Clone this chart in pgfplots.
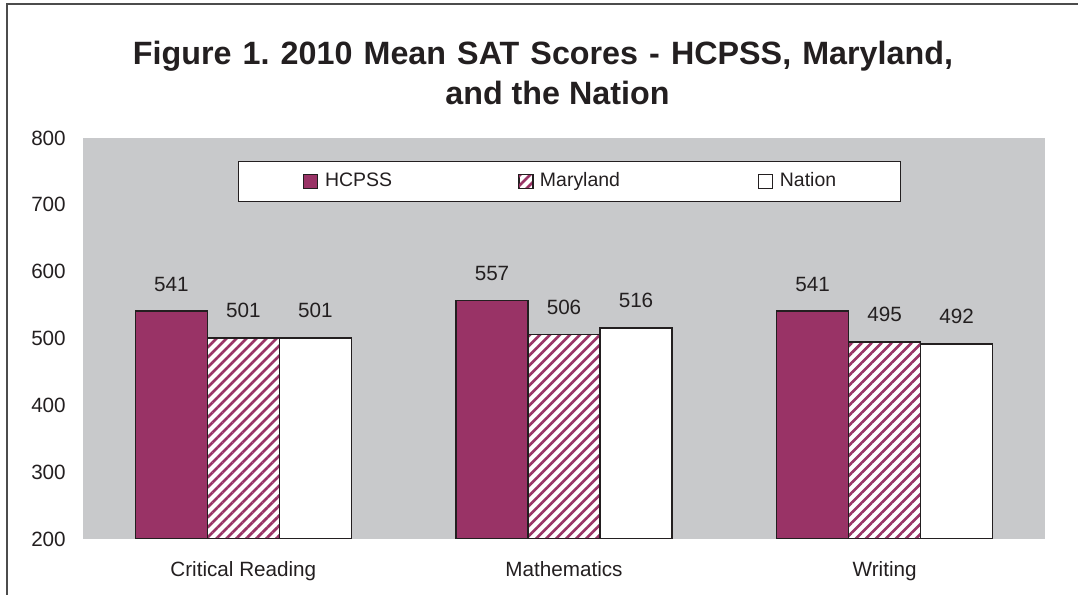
\documentclass[border=0pt]{standalone}
\usepackage{pgfplots}
\pgfplotsset{compat=1.18}
\usepackage{fontspec}
\setmainfont{Liberation Sans}
\usetikzlibrary{patterns.meta}
\definecolor{plum}{RGB}{153,51,102}
\definecolor{bggray}{RGB}{200,201,203}
\definecolor{ink}{RGB}{35,31,32}
\frenchspacing
\begin{document}
\begin{tikzpicture}
\useasboundingbox (0,0) rectangle (808.5pt,-446.25pt);
\draw[color=black!70, line width=1.5pt] (5.25pt,-470pt) -- (5.25pt,-3pt) -- (830pt,-3pt);
\node[anchor=base, font=\fontsize{24.2}{28}\selectfont\bfseries, text=ink, inner sep=0pt] at (407.25pt,-48.75pt) {\spaceskip=0.345em\relax Figure 1. 2010 Mean SAT Scores - HCPSS, Maryland,};
\node[anchor=base, font=\fontsize{24.2}{28}\selectfont\bfseries, text=ink, inner sep=0pt] at (418.1pt,-78.75pt) {and the Nation};
\begin{axis}[
  at={(62.25pt,-103.5pt)}, anchor=north west,
  scale only axis, width=721.5pt, height=300.75pt,
  ymin=200, ymax=800, ytick={200,300,...,800},
  xmin=-0.5, xmax=2.5, xtick={0,1,2},
  xticklabels={Critical Reading, Mathematics, Writing},
  axis line style={draw=none},
  major tick length=0pt,
  axis background/.style={fill=bggray},
  ybar=0pt, bar width=54pt,
  /pgf/number format/assume math mode=true,
  ticklabel style={font=\fontsize{15.5}{18}\selectfont, text=ink},
  yticklabel style={anchor=east, inner xsep=0pt, xshift=-12.75pt},
  xticklabel style={anchor=base, yshift=-28.5pt},
  nodes near coords,
  nodes near coords style={font=\fontsize{15.5}{18}\selectfont, text=ink, anchor=base, yshift=15pt},
  every axis plot/.append style={draw=ink, line width=1.2pt},
  legend style={at={(0.1611,0.9426)}, anchor=north west, draw=ink, line width=0.8pt, fill=white,
    legend columns=3, inner xsep=48.5pt, inner ysep=8.3pt,
    font=\fontsize{14.6}{17}\selectfont, text=ink,
    nodes={inner sep=0pt, text height=10.5pt, text depth=3pt},
    /tikz/every odd column/.append style={column sep=5pt},
    /tikz/column 2/.append style={column sep=94.5pt},
    /tikz/column 4/.append style={column sep=103.5pt}},
  legend image code/.code={\draw[#1, line width=0.9pt] (0pt,-5.25pt) rectangle (10.5pt,5.25pt);},
]
\addplot[fill=plum] coordinates {(0,541) (1,557) (2,541)};
\addplot[preaction={fill=white}, pattern={Lines[angle=45,distance=5.3pt,line width=2pt]}, pattern color=plum] coordinates {(0,501) (1,506) (2,495)};
\addplot[fill=white] coordinates {(0,501) (1,516) (2,492)};
\legend{HCPSS, Maryland, Nation}
\end{axis}
\end{tikzpicture}
\end{document}
